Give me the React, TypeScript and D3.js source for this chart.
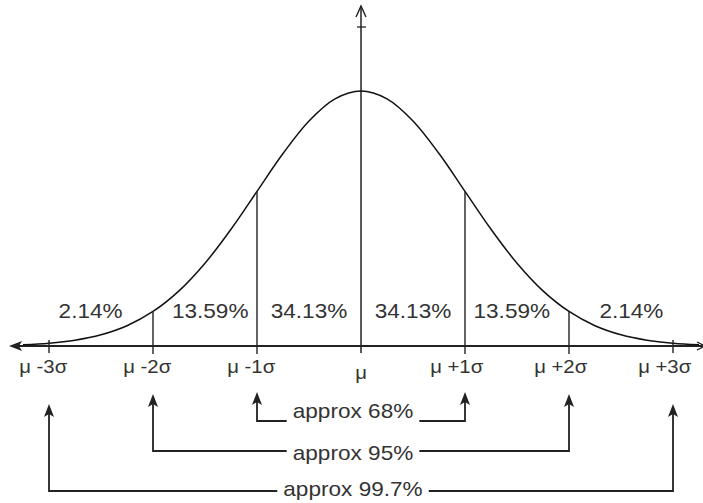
import React, { useMemo } from "react";
import * as d3 from "d3";

// Standard normal density, tabulated every quarter sigma.
const zGrid = [
  -3.25, -3, -2.75, -2.5, -2.25, -2, -1.75, -1.5, -1.25, -1, -0.75, -0.5, -0.25, 0,
  0.25, 0.5, 0.75, 1, 1.25, 1.5, 1.75, 2, 2.25, 2.5, 2.75, 3, 3.25,
];
const density = [
  0.00203, 0.00443, 0.00909, 0.01753, 0.03174, 0.05399, 0.08628, 0.12952, 0.18265,
  0.24197, 0.30114, 0.35207, 0.38667, 0.39894, 0.38667, 0.35207, 0.30114, 0.24197,
  0.18265, 0.12952, 0.08628, 0.05399, 0.03174, 0.01753, 0.00909, 0.00443, 0.00203,
];

// Share of the area in each one-sigma band, left to right.
const bandShares = ["2.14%", "13.59%", "34.13%", "34.13%", "13.59%", "2.14%"];
const bandLabelAt = [-2.6, -1.45, -0.5, 0.5, 1.45, 2.6];

// Axis marks at mu + k sigma.
const sigmaTicks = [-3, -2, -1, 0, 1, 2, 3];

// Coverage brackets: +/- k sigma and the share they hold.
const rangeSpans = [1, 2, 3];
const rangeLabels = ["approx 68%", "approx 95%", "approx 99.7%"];

const W = 703;
const H = 503;
const AXIS_Y = 346;
const FONT = "'Liberation Sans', Arial, Helvetica, sans-serif";
const INK = "#222";
const TEXT = "#333";
const STRETCH = 1.13;

const measure = (txt: string, size: number) => {
  try {
    const ctx = document.createElement("canvas").getContext("2d");
    if (ctx) {
      ctx.font = `${size}px 'Liberation Sans', Arial, sans-serif`;
      return ctx.measureText(txt).width;
    }
  } catch (e) {
    /* fall through */
  }
  return txt.length * size * 0.55;
};

const densityAt = (z: number) => {
  const i = zGrid.indexOf(z);
  return i >= 0 ? density[i] : 0;
};

// Filled barbed arrow head with its tip at (0,0), pointing up.
const headUp = "M0,0 L-5,13 L0,10 L5,13 Z";

export default function App() {
  const x = useMemo(() => d3.scaleLinear().domain([-3, 3]).range([49, 673]), []);
  const y = useMemo(
    () => d3.scaleLinear().domain([0, d3.max(density) as number]).range([AXIS_Y, 91]),
    []
  );

  const curvePath = useMemo(() => {
    const line = d3
      .line<number>()
      .x((_, i) => x(zGrid[i]))
      .y((d) => y(d))
      .curve(d3.curveCatmullRom.alpha(0.5));
    return line(density) || "";
  }, [x, y]);

  const bracketTips = [392, 394, 404];
  const bracketLines = [421, 451, 491];
  const bracketBase = [418, 460, 496];
  const bracketCx = 353;

  const tickSize = 18;
  const digitHalf = (0.556 * tickSize) / 2;

  return (
    <svg
      width={W}
      height={H}
      viewBox={`0 0 ${W} ${H}`}
      style={{ position: "absolute", left: 0, top: 0, background: "#fff" }}
    >
      <rect width={W} height={H} fill="#fff" />

      {/* horizontal axis with arrow heads */}
      <line x1={12} x2={W} y1={AXIS_Y} y2={AXIS_Y} stroke={INK} strokeWidth={2} />
      <path d={headUp} transform={`translate(9,${AXIS_Y}) rotate(-90)`} fill={INK} />
      <path
        d={`M${W - 6},${AXIS_Y - 4} L${W + 2},${AXIS_Y} L${W - 6},${AXIS_Y + 4}`}
        fill="none"
        stroke={INK}
        strokeWidth={1.3}
      />

      {/* vertical axis at mu */}
      <line x1={x(0)} x2={x(0)} y1={6} y2={353} stroke={INK} strokeWidth={1.5} />
      <path
        d={`M${x(0) - 5},${17} L${x(0)},${6} L${x(0) + 5},${17}`}
        fill="none"
        stroke={INK}
        strokeWidth={1.4}
      />
      <line x1={x(0) - 4} x2={x(0) + 5} y1={27} y2={27} stroke={INK} strokeWidth={1.3} />

      {/* density curve */}
      <path d={curvePath} fill="none" stroke="#111" strokeWidth={1.5} />

      {/* sigma boundaries */}
      {sigmaTicks
        .filter((k) => k !== 0)
        .map((k) =>
          Math.abs(k) === 3 ? (
            <line
              key={`b${k}`}
              x1={x(k)}
              x2={x(k)}
              y1={AXIS_Y - 6}
              y2={AXIS_Y + 7}
              stroke={INK}
              strokeWidth={1.4}
            />
          ) : (
            <line
              key={`b${k}`}
              x1={x(k)}
              x2={x(k)}
              y1={y(densityAt(k))}
              y2={AXIS_Y + 8}
              stroke={INK}
              strokeWidth={1.4}
            />
          )
        )}

      {/* band percentages */}
      {bandShares.map((s, i) => (
        <g key={`p${i}`} transform={`translate(${x(bandLabelAt[i])},318) scale(${STRETCH},1)`}>
          <text textAnchor="middle" fontFamily={FONT} fontSize={20} fill={TEXT}>
            {s}
          </text>
        </g>
      ))}

      {/* tick labels */}
      {sigmaTicks.map((k) =>
        k === 0 ? (
          <g key={`t${k}`} transform={`translate(${x(k)},379) scale(${STRETCH},1)`}>
            <text textAnchor="middle" fontFamily={FONT} fontSize={tickSize} fill={TEXT}>
              μ
            </text>
          </g>
        ) : (
          <g key={`t${k}`} transform={`translate(${x(k)},373) scale(${STRETCH},1)`}>
            <text
              x={-digitHalf}
              textAnchor="end"
              fontFamily={FONT}
              fontSize={tickSize}
              fill={TEXT}
              style={{ whiteSpace: "pre" }}
            >
              {k < 0 ? "μ -" : "μ +"}
            </text>
            <text textAnchor="middle" fontFamily={FONT} fontSize={tickSize} fill={TEXT}>
              {String(Math.abs(k))}
            </text>
            <text x={digitHalf} textAnchor="start" fontFamily={FONT} fontSize={tickSize} fill={TEXT}>
              σ
            </text>
          </g>
        )
      )}

      {/* coverage brackets */}
      {rangeSpans.map((s, i) => {
        const xl = x(-s);
        const xr = x(s);
        const half = (measure(rangeLabels[i], 20) * STRETCH) / 2;
        const tip = bracketTips[i];
        const ly = bracketLines[i];
        return (
          <g key={`r${i}`}>
            <path
              d={`M${xl},${tip + 8} V${ly} H${bracketCx - half - 6} M${bracketCx + half + 6},${ly} H${xr} V${tip + 8}`}
              fill="none"
              stroke={INK}
              strokeWidth={1.8}
            />
            <path d={headUp} transform={`translate(${xl},${tip})`} fill={INK} />
            <path d={headUp} transform={`translate(${xr},${tip})`} fill={INK} />
            <g transform={`translate(${bracketCx},${bracketBase[i]}) scale(${STRETCH},1)`}>
              <text textAnchor="middle" fontFamily={FONT} fontSize={20} fill={TEXT}>
                {rangeLabels[i]}
              </text>
            </g>
          </g>
        );
      })}
    </svg>
  );
}
